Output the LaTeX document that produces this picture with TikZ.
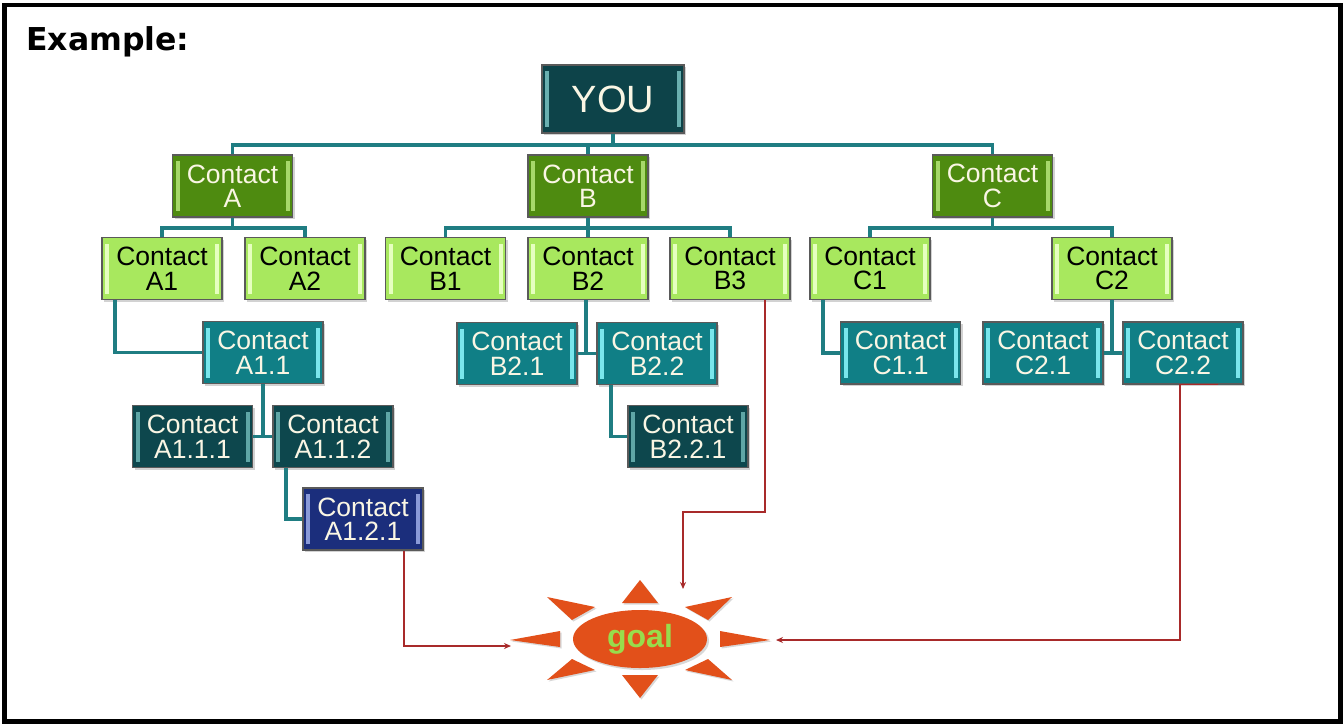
\documentclass[tikz,border=0pt]{standalone}
\usepackage{fontspec}
\setmainfont{Liberation Sans}
\newfontfamily\titlefont{DejaVu Sans}
\usetikzlibrary{shapes.geometric,arrows.meta,shadows}
\definecolor{youfill}{HTML}{0D4349}
\definecolor{youbev}{HTML}{6AB0B0}
\definecolor{l1fill}{HTML}{4E8B10}
\definecolor{l1bev}{HTML}{A6D86A}
\definecolor{l2fill}{HTML}{A8E85E}
\definecolor{l2bev}{HTML}{E6FFC0}
\definecolor{l3fill}{HTML}{107F86}
\definecolor{l3bev}{HTML}{7AE6EC}
\definecolor{l4fill}{HTML}{0D474D}
\definecolor{l4bev}{HTML}{5FA6A6}
\definecolor{l5fill}{HTML}{1B2E7C}
\definecolor{l5bev}{HTML}{8A9AD8}
\definecolor{boxborder}{HTML}{5A5A5A}
\definecolor{conncol}{HTML}{1F7D82}
\definecolor{redcol}{HTML}{A82A2A}
\definecolor{goalorange}{HTML}{E2501A}
\definecolor{goaltext}{HTML}{98DC4C}
\definecolor{lighttext}{HTML}{FAF6E4}
\tikzset{
  box/.style={draw=boxborder, line width=1.3pt, minimum width=120pt, minimum height=62pt,
    inner sep=0pt, align=center, font=\fontsize{26.5}{24.5}\selectfont,
    drop shadow={shadow xshift=2pt, shadow yshift=-2pt, opacity=0.35}},
  bevel/.style={path picture={
    \fill[#1] ([xshift=3pt,yshift=-6pt]path picture bounding box.north west) rectangle ([xshift=7pt,yshift=6pt]path picture bounding box.south west);
    \fill[#1] ([xshift=-3pt,yshift=-6pt]path picture bounding box.north east) rectangle ([xshift=-7pt,yshift=6pt]path picture bounding box.south east);}},
  youbox/.style={box, fill=youfill, bevel=youbev, text=lighttext, minimum width=142pt, minimum height=68pt, font=\fontsize{38}{38}\selectfont},
  lvlone/.style={box, fill=l1fill, bevel=l1bev, text=lighttext},
  lvltwo/.style={box, fill=l2fill, bevel=l2bev, text=black},
  lvlthree/.style={box, fill=l3fill, bevel=l3bev, text=lighttext},
  lvlfour/.style={box, fill=l4fill, bevel=l4bev, text=lighttext},
  lvlfive/.style={box, fill=l5fill, bevel=l5bev, text=lighttext},
  conn/.style={draw=conncol, line width=3.3pt},
  redc/.style={draw=redcol, line width=1.5pt, -{Stealth[length=7pt,width=6pt]}},
  ray/.style={fill=goalorange, drop shadow={shadow xshift=1.5pt, shadow yshift=-1.5pt, opacity=0.3}}
}
\begin{document}
\begin{tikzpicture}[x=1pt,y=-1pt]
\useasboundingbox (0,0) rectangle (1343,724);
\fill[white] (0,0) rectangle (1343,724);
\draw[line width=4.5pt] (4.5,5) rectangle (1340.5,721.5);
\node[anchor=base west, inner sep=0pt, font=\titlefont\bfseries\fontsize{31.5}{31.5}\selectfont] (title) at (26,50) {Example:};

% nodes
\node[youbox] (you) at (613,99) {YOU};
\node[lvlone] (cA) at (232.5,186) {Contact\\A};
\node[lvlone] (cB) at (588,186) {Contact\\B};
\node[lvlone] (cC) at (992.5,186) {Contact\\C};
\node[lvltwo] (a1) at (162,268.5) {Contact\\A1};
\node[lvltwo] (a2) at (305,268.5) {Contact\\A2};
\node[lvltwo] (b1) at (445.5,268.5) {Contact\\B1};
\node[lvltwo] (b2) at (588,268.5) {Contact\\B2};
\node[lvltwo] (b3) at (730,268.5) {Contact\\B3};
\node[lvltwo] (c1) at (870,268.5) {Contact\\C1};
\node[lvltwo] (c2) at (1112,268.5) {Contact\\C2};
\node[lvlthree] (a11) at (263,352.5) {Contact\\A1.1};
\node[lvlthree] (b21) at (517,353.5) {Contact\\B2.1};
\node[lvlthree] (b22) at (657,353.5) {Contact\\B2.2};
\node[lvlthree] (c11) at (900.5,353) {Contact\\C1.1};
\node[lvlthree] (c21) at (1043,353) {Contact\\C2.1};
\node[lvlthree] (c22) at (1183,353) {Contact\\C2.2};
\node[lvlfour] (a111) at (192.5,436.5) {Contact\\A1.1.1};
\node[lvlfour] (a112) at (333,436.5) {Contact\\A1.1.2};
\node[lvlfour] (b221) at (688,436.5) {Contact\\B2.2.1};
\node[lvlfive] (a121) at (363,519) {Contact\\A1.2.1};

% connectors
\coordinate (bus) at (613,145);
\draw[conn] (cA.north) |- (bus) -| (cC.north);
\draw[conn] (you.south) -- (bus);
\draw[conn] (cB.north) -- (cB.north |- bus);
\draw[conn] (a1.north) -- ++(0,-9) -| (a2.north);
\draw[conn] (cA.south) -- ++(0,11);
\draw[conn] (b1.north) -- ++(0,-9) -| (b3.north);
\draw[conn] (cB.south) -- (b2.north);
\draw[conn] (c1.north) -- ++(0,-9) -| (c2.north);
\draw[conn] (cC.south) -- ++(0,11);
\draw[conn] ([xshift=-47pt]a1.south) |- (a11.west);
\draw[conn] ([xshift=-2pt]b2.south) -- ([xshift=-2pt]b2.south |- b21.east);
\draw[conn] (b21.east) -- (b22.west);
\draw[conn] ([xshift=-47pt]c1.south) |- (c11.west);
\draw[conn] (c2.south) -- (c2.south |- c21.east);
\draw[conn] (c21.east) -- (c22.west);
\draw[conn] (a11.south) -- (a11.south |- a111.east);
\draw[conn] (a111.east) -- (a112.west);
\draw[conn] ([xshift=-46pt]b22.south) |- (b221.west);
\draw[conn] ([xshift=-47pt]a112.south) |- (a121.west);

% goal
\fill[ray] (622,603) -- (640,580) -- (658,603) -- cycle;
\fill[ray] (622,675) -- (640,698) -- (658,675) -- cycle;
\fill[ray] (560,631) -- (510,640) -- (560,647) -- cycle;
\fill[ray] (720,631) -- (770,640) -- (720,647) -- cycle;
\fill[ray] (547,597) -- (595,607) -- (572,620) -- cycle;
\fill[ray] (732,597) -- (685,607) -- (708,620) -- cycle;
\fill[ray] (547,680) -- (572,659) -- (595,670) -- cycle;
\fill[ray] (732,680) -- (708,659) -- (685,670) -- cycle;
\node[ellipse, fill=goalorange, minimum width=134pt, minimum height=58pt, inner sep=0pt,
  text=goaltext, font=\bfseries\fontsize{32}{32}\selectfont,
  drop shadow={shadow xshift=2pt, shadow yshift=-2pt, opacity=0.3}] (goal) at (640,639) {goal};
\coordinate (gL) at (511,646);
\coordinate (gT) at (683,589);
\coordinate (gR) at (776,640);

% red connectors
\draw[redc] ([xshift=41pt]a121.south) |- (gL);
\draw[redc] ([xshift=35pt]b3.south) -- ++(0,212) -| (gT);
\draw[redc] ([xshift=35pt]c22.south) -- ([xshift=-3pt]c22.south) |- (gR);
\end{tikzpicture}
\end{document}
